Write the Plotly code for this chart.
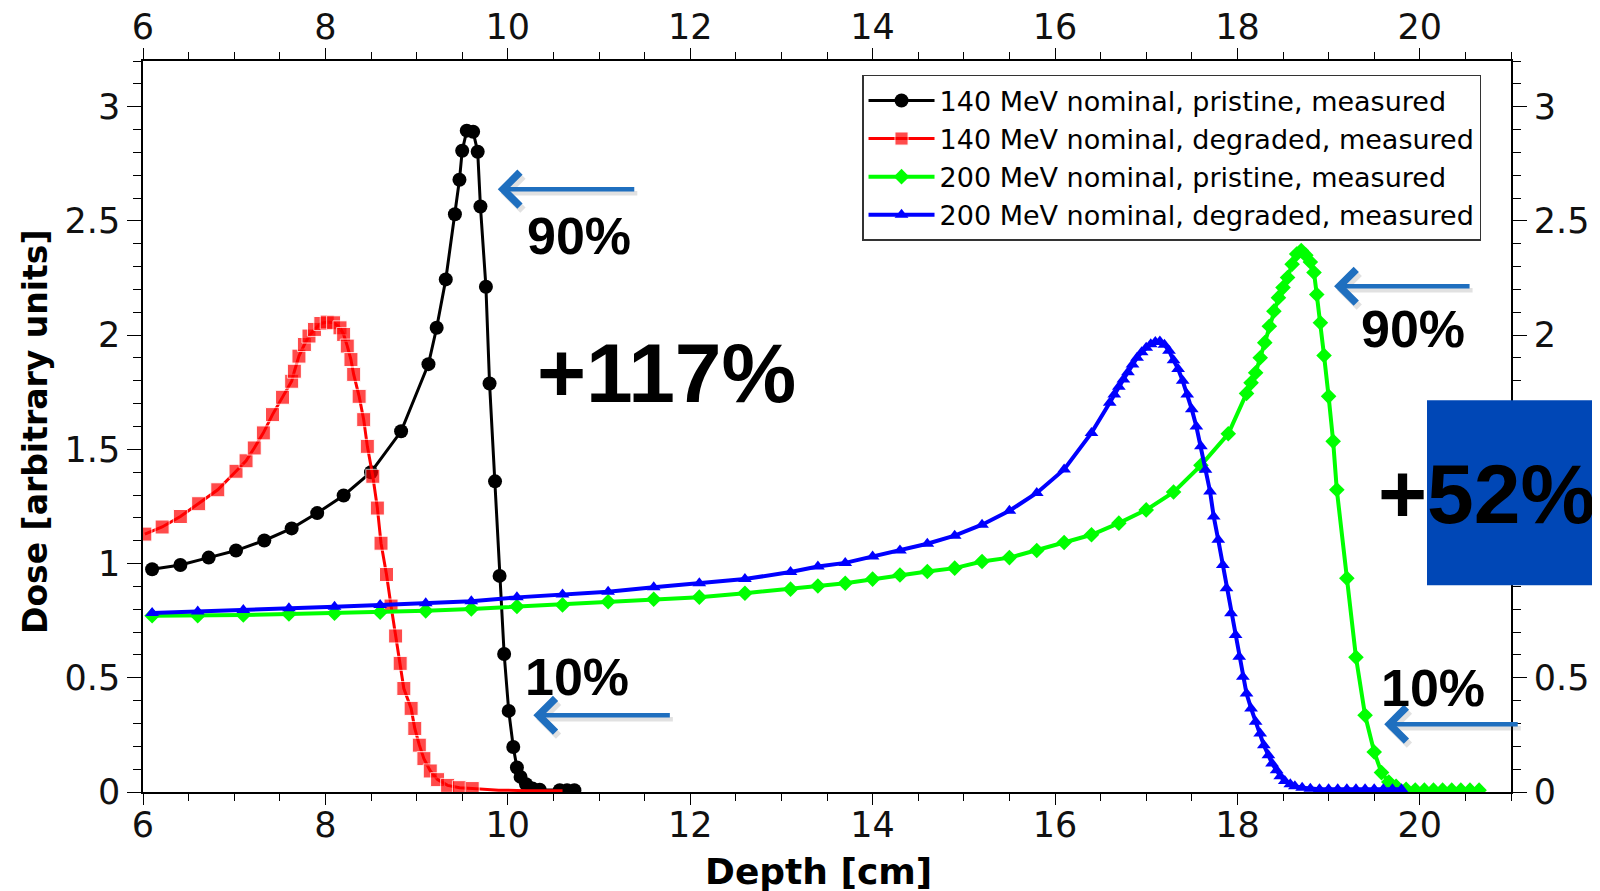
import plotly.graph_objects as go

# ---------------- data ----------------
# 140 MeV nominal, pristine, measured (black circles)
depth_140_pristine = [6.10, 6.41, 6.72, 7.02, 7.33, 7.63, 7.91, 8.20, 8.50, 8.83,
                      9.13, 9.22, 9.32, 9.42, 9.47, 9.50, 9.55, 9.62, 9.67, 9.70,
                      9.76, 9.80, 9.86, 9.91, 9.96, 10.01, 10.06, 10.10, 10.14, 10.20,
                      10.27, 10.35, 10.57, 10.65, 10.73]
dose_140_pristine = [0.975, 0.994, 1.026, 1.057, 1.101, 1.154, 1.221, 1.298, 1.400, 1.579,
                     1.873, 2.032, 2.244, 2.529, 2.680, 2.807, 2.895, 2.890, 2.803, 2.563,
                     2.212, 1.788, 1.360, 0.946, 0.604, 0.355, 0.197, 0.107, 0.066, 0.034,
                     0.015, 0.010, 0.008, 0.008, 0.008]

# 140 MeV nominal, degraded, measured (red squares)
depth_140_degraded = [6.02, 6.21, 6.41, 6.61, 6.82, 7.02, 7.13, 7.22, 7.32, 7.42,
                      7.53, 7.63, 7.66, 7.71, 7.77, 7.82, 7.88, 7.95, 8.02, 8.09,
                      8.16, 8.20, 8.24, 8.28, 8.31, 8.37, 8.42, 8.46, 8.52, 8.57,
                      8.61, 8.67, 8.72, 8.77, 8.82, 8.86, 8.94, 8.98, 9.03, 9.08,
                      9.15, 9.23, 9.34, 9.47, 9.61, 9.90, 10.20, 10.60]
dose_140_degraded = [1.129, 1.160, 1.206, 1.262, 1.323, 1.404, 1.450, 1.506, 1.572, 1.652,
                     1.728, 1.798, 1.842, 1.908, 1.959, 1.996, 2.025, 2.051, 2.057, 2.054,
                     2.032, 2.003, 1.952, 1.893, 1.828, 1.732, 1.630, 1.513, 1.382, 1.243,
                     1.089, 0.952, 0.814, 0.683, 0.563, 0.453, 0.366, 0.278, 0.205, 0.146,
                     0.092, 0.054, 0.029, 0.019, 0.015, 0.008, 0.006, 0.005]

# 200 MeV nominal, pristine, measured (green diamonds)
depth_200_pristine = [6.1, 6.6, 7.1, 7.6, 8.1, 8.6, 9.1, 9.6, 10.1, 10.6,
                      11.1, 11.6, 12.1, 12.6, 13.1, 13.4, 13.7, 14.0, 14.3, 14.6,
                      14.9, 15.2, 15.5, 15.8, 16.1, 16.4, 16.7, 17.0, 17.3, 17.6,
                      17.9, 18.1, 18.15, 18.2, 18.25, 18.3, 18.35, 18.4, 18.45, 18.5,
                      18.55, 18.6, 18.65, 18.7, 18.75, 18.8, 18.84, 18.87, 18.91, 18.95,
                      19.0, 19.05, 19.09, 19.2, 19.3, 19.4, 19.5, 19.58, 19.66, 19.74,
                      19.85, 19.95, 20.05, 20.15, 20.25, 20.35, 20.45, 20.55, 20.65]
dose_200_pristine = [0.772, 0.772, 0.775, 0.779, 0.783, 0.787, 0.793, 0.801, 0.812, 0.819,
                     0.833, 0.844, 0.853, 0.870, 0.888, 0.902, 0.914, 0.932, 0.950, 0.965,
                     0.980, 1.009, 1.026, 1.057, 1.092, 1.126, 1.177, 1.235, 1.313, 1.430,
                     1.568, 1.745, 1.791, 1.835, 1.901, 1.967, 2.039, 2.105, 2.164, 2.208,
                     2.252, 2.310, 2.355, 2.370, 2.350, 2.320, 2.274, 2.178, 2.054, 1.911,
                     1.732, 1.535, 1.323, 0.936, 0.590, 0.336, 0.175, 0.085, 0.044, 0.025,
                     0.012, 0.009, 0.008, 0.008, 0.008, 0.008, 0.008, 0.008, 0.008]

# 200 MeV nominal, degraded, measured (blue triangles)
depth_200_degraded = [6.1, 6.6, 7.1, 7.6, 8.1, 8.6, 9.1, 9.6, 10.1, 10.6,
                      11.1, 11.6, 12.1, 12.6, 13.1, 13.4, 13.7, 14.0, 14.3, 14.6,
                      14.9, 15.2, 15.5, 15.8, 16.1, 16.4, 16.6, 16.65, 16.7, 16.75,
                      16.8, 16.85, 16.9, 16.95, 17.0, 17.05, 17.1, 17.15, 17.2, 17.25,
                      17.3, 17.35, 17.4, 17.45, 17.5, 17.55, 17.6, 17.65, 17.7, 17.74,
                      17.79, 17.84, 17.88, 17.93, 17.98, 18.02, 18.06, 18.1, 18.15, 18.2,
                      18.25, 18.29, 18.34, 18.38, 18.43, 18.47, 18.52, 18.58, 18.63, 18.71,
                      18.8, 18.9, 19.0, 19.1, 19.2, 19.3, 19.4, 19.5, 19.6, 19.7, 19.8]
dose_200_degraded = [0.784, 0.790, 0.797, 0.804, 0.811, 0.819, 0.826, 0.835, 0.852, 0.865,
                     0.877, 0.896, 0.914, 0.932, 0.963, 0.987, 1.003, 1.031, 1.057, 1.087,
                     1.122, 1.170, 1.231, 1.309, 1.412, 1.572, 1.704, 1.740, 1.774, 1.806,
                     1.838, 1.871, 1.901, 1.925, 1.945, 1.960, 1.970, 1.972, 1.958, 1.932,
                     1.890, 1.852, 1.800, 1.740, 1.675, 1.600, 1.513, 1.411, 1.316, 1.206,
                     1.104, 0.994, 0.892, 0.782, 0.687, 0.592, 0.504, 0.431, 0.366, 0.307,
                     0.256, 0.205, 0.161, 0.125, 0.095, 0.069, 0.048, 0.034, 0.025, 0.019,
                     0.014, 0.012, 0.012, 0.012, 0.012, 0.012, 0.012, 0.012, 0.012, 0.012, 0.012]

series_names = ["140 MeV nominal, pristine, measured",
                "140 MeV nominal, degraded, measured",
                "200 MeV nominal, pristine, measured",
                "200 MeV nominal, degraded, measured"]

x_tick_values = [6, 8, 10, 12, 14, 16, 18, 20]
y_tick_values = [0, 0.5, 1, 1.5, 2, 2.5, 3]
y_tick_labels = ["0", "0.5", "1", "1.5", "2", "2.5", "3"]

# ---------------- figure ----------------
fig = go.Figure()

# the degraded 140 MeV curve shows no markers along its flat tail
red_marker_sizes = [14 if d < 9.7 else 0 for d in depth_140_degraded]

fig.add_trace(go.Scatter(
    x=depth_140_pristine, y=dose_140_pristine, name=series_names[0],
    mode="lines+markers", line=dict(color="#000000", width=3),
    marker=dict(symbol="circle", size=14, color="#000000")))
fig.add_trace(go.Scatter(
    x=depth_140_degraded, y=dose_140_degraded, name=series_names[1],
    mode="lines+markers", line=dict(color="#FF0000", width=3),
    marker=dict(symbol="square", size=red_marker_sizes, color="#FF0000")))
fig.add_trace(go.Scatter(
    x=depth_200_pristine, y=dose_200_pristine, name=series_names[2],
    mode="lines+markers", line=dict(color="#00FF00", width=4),
    marker=dict(symbol="diamond", size=12, color="#00FF00")))
# drawn on the mirrored (top / right) axes, which match the main ones exactly
fig.add_trace(go.Scatter(
    x=depth_200_degraded, y=dose_200_degraded, name=series_names[3],
    xaxis="x2", yaxis="y2",
    mode="lines+markers", line=dict(color="#0000FF", width=4),
    marker=dict(symbol="triangle-up", size=12, color="#0000FF")))

tick_font = dict(family="DejaVu Sans", size=35, color="#111111")
x_common = dict(range=[6, 21], tickmode="array", tickvals=x_tick_values,
                ticks="outside", ticklen=11, tickwidth=1.2, tickcolor="black",
                showline=True, linecolor="black", linewidth=1.5,
                showgrid=False, zeroline=False, tickfont=tick_font,
                minor=dict(dtick=0.5, tick0=6, ticks="outside", ticklen=7,
                           tickwidth=1.2, tickcolor="black", showgrid=False))
y_common = dict(range=[0, 3.2], tickmode="array", tickvals=y_tick_values,
                ticks="outside", ticklen=14, tickwidth=1.2, tickcolor="black",
                showline=True, linecolor="black", linewidth=1.5,
                showgrid=False, zeroline=False, tickfont=tick_font,
                minor=dict(dtick=0.1, tick0=0, ticks="outside", ticklen=8,
                           tickwidth=1.2, tickcolor="black", showgrid=False))

# the right-axis labels at 1 and 1.5 sit under the dark-blue box in the reference
right_labels = [t if v not in (1, 1.5) else "" for v, t in zip(y_tick_values, y_tick_labels)]

# margins account for the 8px page offset of the html body
fig.update_layout(
    width=1600, height=891,
    margin=dict(l=135, r=97, t=53, b=107, autoexpand=False),
    paper_bgcolor="white", plot_bgcolor="white",
    xaxis=dict(**x_common, side="bottom", anchor="y", ticklabelstandoff=-10),
    xaxis2=dict(**x_common, side="top", overlaying="x", matches="x", anchor="y2",
                ticklabelstandoff=-5),
    yaxis=dict(**y_common, side="left", anchor="x", ticktext=y_tick_labels),
    yaxis2=dict(**y_common, side="right", overlaying="y", matches="y", anchor="x2",
                ticktext=right_labels),
    legend=dict(x=0.5256, y=0.981, xanchor="left", yanchor="top",
                bgcolor="white", bordercolor="#333333", borderwidth=1.5,
                font=dict(family="DejaVu Sans", size=27, color="black"),
                itemwidth=66, tracegroupgap=0),
    showlegend=True,
)

annotations = []

# axis titles
annotations.append(dict(text="<b>Depth [cm]</b>", xref="paper", yref="paper",
                        x=0.494, y=-0.109, xanchor="center", yanchor="middle",
                        showarrow=False,
                        font=dict(family="DejaVu Sans", size=36, color="black")))
annotations.append(dict(text="<b>Dose [arbitrary units]</b>", xref="paper", yref="paper",
                        x=-0.0782, y=0.4925, xanchor="center", yanchor="middle",
                        textangle=-90, showarrow=False,
                        font=dict(family="DejaVu Sans", size=33, color="black")))

# blue arrows (tip position in data units, tail offset in pixels) with soft shadow
arrow_color = "#1F6FBF"
arrow_tips = [(9.89, 2.639, 138), (10.28, 0.336, 138), (19.06, 2.214, 137), (19.61, 0.297, 135)]
for tx, ty, length in arrow_tips:
    annotations.append(dict(x=tx, y=ty, xref="x", yref="y", ax=length, ay=0,
                            text="", showarrow=True, arrowhead=4, arrowsize=1.45,
                            arrowwidth=4.5, arrowcolor="rgba(60,60,60,0.15)",
                            standoff=0, xshift=3, yshift=-4))
    annotations.append(dict(x=tx, y=ty, xref="x", yref="y", ax=length, ay=0,
                            text="", showarrow=True, arrowhead=4, arrowsize=1.45,
                            arrowwidth=4.5, arrowcolor=arrow_color, standoff=0))

label_font = dict(family="Liberation Sans, Arial", size=52, color="black")
big_font = dict(family="Liberation Sans, Arial", size=84, color="black")
annotations += [
    dict(text="<b>90%</b>", x=10.78, y=2.432, xref="x", yref="y", showarrow=False, font=label_font),
    dict(text="<b>10%</b>", x=10.76, y=0.503, xref="x", yref="y", showarrow=False, font=label_font),
    dict(text="<b>90%</b>", x=19.92, y=2.025, xref="x", yref="y", showarrow=False, font=label_font),
    dict(text="<b>10%</b>", x=20.14, y=0.455, xref="x", yref="y", showarrow=False, font=label_font),
    dict(text="<b>+117%</b>", x=11.74, y=1.835, xref="x", yref="y", showarrow=False, font=big_font),
    dict(text="<b>+52%</b>", x=19.52, y=1.306, xref="x", yref="y", xanchor="left",
         showarrow=False, font=big_font),
]

fig.update_layout(annotations=annotations)

# dark blue box behind "+52%"
fig.add_shape(type="rect", xref="paper", yref="paper",
              x0=0.9386, x1=1.08, y0=0.283, y1=0.536,
              fillcolor="#0047B6", line=dict(width=0), layer="above")

fig.write_html("out.html")
